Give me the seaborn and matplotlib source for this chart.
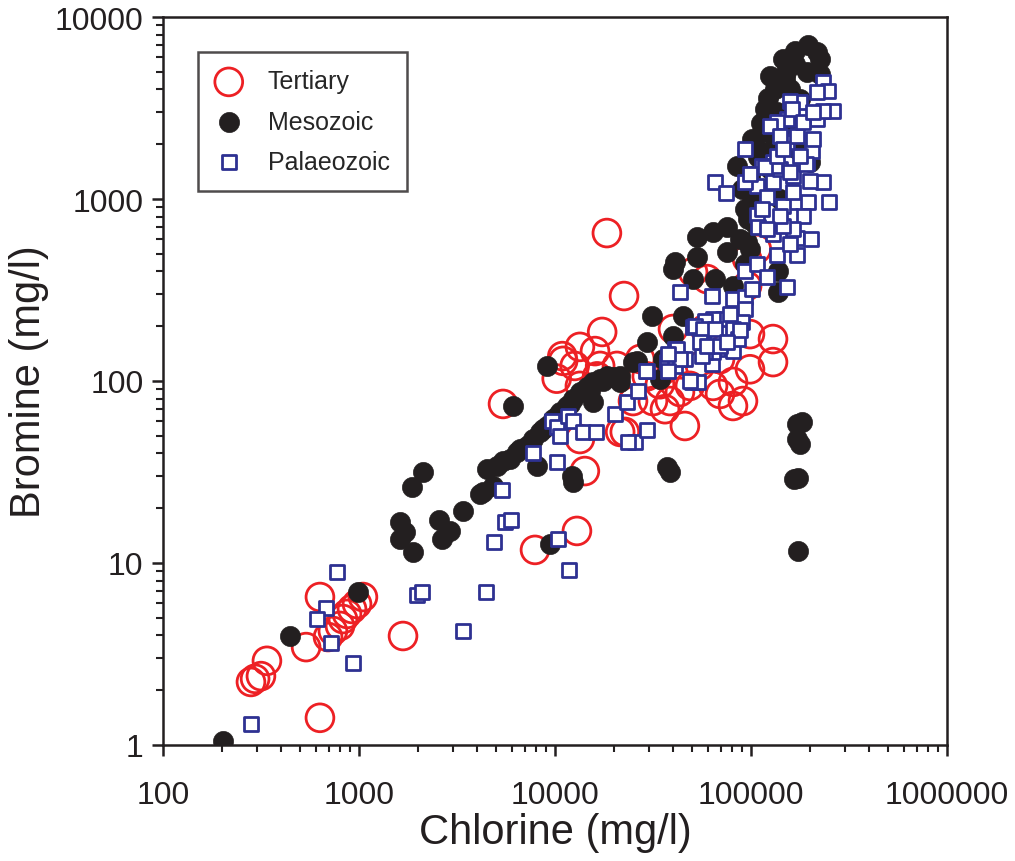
import numpy as np
import pandas as pd
import matplotlib
matplotlib.use("Agg")
import matplotlib.pyplot as plt
import seaborn as sns
from matplotlib.ticker import FixedLocator, NullFormatter, LogLocator

# Chlorine / bromine concentrations (mg/l)

tertiary_cl = [281, 295, 316, 339, 537, 632, 632, 695, 736, 800, 828, 868, 921, 977, 1047,
               1677, 7906, 12940, 5430, 18400, 22500, 17400, 13400, 16000, 10900, 12600,
               17000, 20700, 10200, 13400, 16400, 13400, 22700, 14200, 31600, 38600, 46000,
               25000, 29400, 40000, 59700, 95500, 98800, 129500, 129500, 98800, 80900,
               91000, 80900, 64000, 48800, 43400, 55000, 69500, 50600, 11000, 21500, 34300,
               27200, 58200, 107000, 69500, 36400, 95500]
tertiary_br = [2.22, 2.31, 2.39, 2.90, 3.45, 6.50, 1.41, 3.92, 4.23, 4.51, 4.92, 5.25, 5.59,
               5.95, 6.50, 3.97, 11.8, 15.0, 74.8, 650, 293, 186, 154, 146, 137, 121, 121,
               121, 103, 94, 106, 48, 52.5, 32, 77.6, 77.6, 56.6, 77.6, 106, 193, 363, 333,
               181, 170, 127, 116, 98.8, 77.6, 72.9, 94, 94, 87, 121, 132, 397, 129, 52.5,
               96, 132, 193, 531, 84.9, 70, 468]

mesozoic_cl = [202, 445, 989, 1620, 1717, 1620, 1887, 2120, 1862, 2560, 2910, 2650, 3390,
               4290, 4830, 4500, 4140, 9430, 12360, 12200, 5060, 5890, 6400, 7200, 7730,
               8380, 9100, 9770, 10600, 11500, 12360, 13400, 14600, 15600, 17000, 18400,
               19800, 21500, 25000, 29400, 31300, 26200, 6110, 9100, 37300, 38600, 34300,
               35600, 40000, 45000, 40000, 40900, 53000, 50600, 65500, 53000, 64000, 75500,
               75500, 95500, 137000, 137000, 182000, 172000, 178000, 172000, 174000,
               166000, 174000, 80900, 87900, 98800, 101000, 84900, 114000, 125000, 146000,
               168000, 195000, 217000, 193000, 136000, 121000, 200000, 107000, 98800,
               158000, 178000, 132000, 111000, 168000, 149000, 141000, 125000, 93200,
               105000, 225000, 172000, 158000, 5430, 6630, 7450, 8690, 10200, 15100, 17600,
               11900, 8100, 21500, 15600, 93200, 225000, 141000, 101000, 90000, 117800,
               132500, 96000, 108000, 112000, 122000, 150000]
mesozoic_br = [1.05, 3.97, 6.93, 16.8, 14.8, 13.5, 11.5, 31.6, 26.2, 17.2, 15.0, 13.5, 19.3,
               24.5, 26.5, 32.8, 23.9, 12.7, 27.9, 30.1, 34.1, 37.3, 40.7, 44.0, 48, 52.5,
               56.6, 61.8, 67.6, 72.9, 79.6, 87, 92.7, 98.8, 103, 106, 105, 106, 127, 164,
               228, 129, 72.9, 121, 33.7, 31.6, 103, 132, 177, 228, 412, 451, 480, 363, 363,
               618, 659, 702, 512, 580, 402, 308, 59.5, 58, 45, 48, 29.3, 29, 11.6, 333,
               603, 531, 963, 1520, 2330, 4740, 5880, 6500, 7000, 6430, 4990, 3010, 1810,
               1600, 1880, 1340, 4020, 3540, 2140, 1140, 5520, 4560, 2430, 1460, 881, 729,
               5880, 1880, 2750, 36.3, 42.3, 45, 54.5, 64.2, 88, 100, 74.8, 34.1, 98.8,
               76.7, 439, 4860, 1000, 2140, 1140, 3120, 4020, 780, 1700, 2600, 3600, 5000]

palaeozoic_cl = [281, 679, 772, 611, 719, 931, 1977, 2096, 3390, 4450, 4890, 5560, 5970,
                 5370, 10360, 11790, 9660, 10230, 10610, 11650, 12360, 13890, 16190, 7730,
                 10230, 20230, 23290, 26500, 29460, 25590, 29460, 23570, 37240, 40930,
                 46040, 50000, 53700, 43450, 63240, 93110, 152700, 135800, 171800, 171800,
                 129500, 80910, 93110, 93110, 89950, 80910, 67880, 63240, 56890, 50580,
                 71940, 63970, 58230, 80910, 85870, 63970, 58230, 87900, 78160, 51760,
                 56890, 65460, 56230, 54950, 41900, 40930, 43450, 37750, 37750, 29110,
                 48870, 59660, 69500, 75460, 65460, 74470, 107400, 108600, 158100, 107400,
                 129500, 195400, 184100, 158100, 145600, 120700, 129500, 193100, 232900,
                 200000, 163700, 140600, 113800, 93110, 98850, 204800, 163700, 163700,
                 145600, 140600, 120700, 113800, 93110, 232900, 247200, 262000, 217100,
                 177800, 158100, 152700, 135800, 125000, 207000, 191000, 132500, 117800,
                 177800, 152700, 171800, 217100, 232900, 161800, 140600, 158100, 135800,
                 145600, 184100, 207000, 250000, 202300, 107400, 120700, 101200]
palaeozoic_br = [1.30, 5.66, 8.93, 4.92, 3.63, 2.82, 6.67, 6.93, 4.23, 6.93, 13.0, 16.8, 17.2,
                 25.2, 13.5, 9.16, 60.3, 55.9, 49.9, 64.2, 60.3, 52.5, 52.5, 40.2, 35.9,
                 65.9, 76.7, 88.1, 113, 46.2, 53.8, 46.2, 127, 150, 132, 98.8, 98.8, 308,
                 293, 402, 328, 492, 492, 611, 642, 282, 290, 249, 211, 146, 150, 124, 164,
                 198, 219, 219, 214, 193, 170, 144, 144, 191, 233, 200, 193, 193, 137, 164,
                 150, 121, 132, 141, 113, 113, 100, 156, 156, 164, 1240, 1080, 817, 702,
                 566, 1178, 1240, 963, 807, 807, 916, 1026, 1597, 1578, 1240, 1256, 1337,
                 1462, 1518, 1240, 1372, 1836, 1093, 684, 711, 807, 684, 881, 1883, 4395,
                 3921, 3046, 3873, 3412, 3453, 2754, 2649, 2518, 2138, 1557, 1518, 1500,
                 1722, 2056, 2218, 2754, 3046, 3123, 2218, 1407, 1722, 1883, 2649, 3006,
                 963, 603, 439, 373, 320]

df_t = pd.DataFrame({"Chlorine": tertiary_cl, "Bromine": tertiary_br})
df_m = pd.DataFrame({"Chlorine": mesozoic_cl, "Bromine": mesozoic_br})
df_p = pd.DataFrame({"Chlorine": palaeozoic_cl, "Bromine": palaeozoic_br})

sns.set_theme(style="ticks")
plt.rcParams["font.family"] = ["Liberation Sans", "DejaVu Sans"]

red = "#ED2024"
black = "#231F20"
blue = "#2E3192"

fig = plt.figure(figsize=(10.15, 8.62), dpi=100)
ax = fig.add_axes([0.1606, 0.1346, 0.7724, 0.8445])

sns.scatterplot(data=df_t, x="Chlorine", y="Bromine", ax=ax, marker="o", s=400,
                facecolor="none", edgecolor=red, linewidth=2, label="Tertiary")
sns.scatterplot(data=df_m, x="Chlorine", y="Bromine", ax=ax, marker="o", s=210,
                color=black, edgecolor=black, linewidth=0.5, label="Mesozoic")
sns.scatterplot(data=df_p, x="Chlorine", y="Bromine", ax=ax, marker="s", s=95,
                facecolor="white", edgecolor=blue, linewidth=2, label="Palaeozoic")

ax.set_xscale("log")
ax.set_yscale("log")
ax.set_xlim(100, 1000000)
ax.set_ylim(1, 10000)

xt = [100, 1000, 10000, 100000, 1000000]
yt = [1, 10, 100, 1000, 10000]
ax.xaxis.set_major_locator(FixedLocator(xt))
ax.yaxis.set_major_locator(FixedLocator(yt))
ax.set_xticklabels([str(v) for v in xt])
ax.set_yticklabels([str(v) for v in yt])
ax.xaxis.set_minor_locator(LogLocator(base=10, subs=np.arange(2, 10)))
ax.yaxis.set_minor_locator(LogLocator(base=10, subs=np.arange(2, 10)))
ax.xaxis.set_minor_formatter(NullFormatter())
ax.yaxis.set_minor_formatter(NullFormatter())

ax.tick_params(axis="both", which="major", direction="out", length=8, width=1.8,
               labelsize=23, color=black, labelcolor=black)
ax.tick_params(axis="x", which="major", pad=17)
ax.tick_params(axis="y", which="major", pad=6)
ax.tick_params(axis="both", which="minor", direction="out", length=5, width=1.5, color=black)
for sp in ax.spines.values():
    sp.set_linewidth(1.8)
    sp.set_color(black)

ax.set_xlabel("Chlorine (mg/l)", fontsize=30, color=black, labelpad=2)
ax.set_ylabel("Bromine (mg/l)", fontsize=30, color=black, labelpad=4)

leg = ax.legend(loc="upper left", bbox_to_anchor=(0.044, 0.952), fontsize=18,
                frameon=True, fancybox=False, edgecolor=black, borderpad=0.7,
                labelspacing=0.65, handlelength=1.1, handletextpad=1.0, borderaxespad=0)
leg.get_frame().set_linewidth(1.8)

fig.savefig("out.png", dpi=100)
